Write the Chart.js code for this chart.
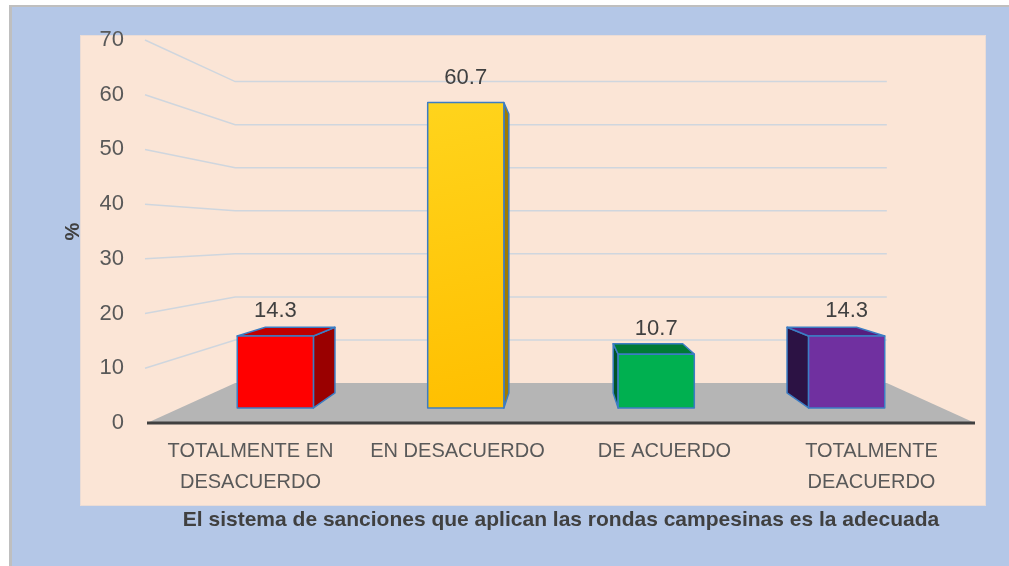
<!DOCTYPE html>
<html lang="es">
<head>
    <meta charset="UTF-8">
    <title>El sistema de sanciones que aplican las rondas campesinas es la adecuada</title>
    <style>
        html, body {
            margin: 0;
            padding: 0;
            background: #ffffff;
        }
        canvas {
            display: block;
        }
    </style>
    <script src="https://cdn.jsdelivr.net/npm/chart.js"></script>
</head>
<body>
    <canvas id="chartCanvas" width="1009" height="566"></canvas>

    <script>
        // datos del gráfico
        const categories = [
            ['TOTALMENTE EN', 'DESACUERDO'],
            ['EN DESACUERDO'],
            ['DE ACUERDO'],
            ['TOTALMENTE', 'DEACUERDO']
        ];
        const percentages = [14.3, 60.7, 10.7, 14.3];
        const yTicks = [0, 10, 20, 30, 40, 50, 60, 70];
        const xTitle = 'El sistema de sanciones que aplican las rondas campesinas es la adecuada';
        const yTitle = '%';

        // colores de las caras (frente, arriba, lado)
        const frontColors = ['#FF0000', '#FFC000', '#00B050', '#7030A0'];
        const topColors = ['#C00000', '#D9A300', '#007A36', '#561F80'];
        const sideColors = ['#9A0000', '#A07A00', '#00532A', '#2C1244'];

        const FONT = '"Liberation Sans", Arial, sans-serif';

        // profundidades relativas al plano frontal (perspectiva tipo Excel 3D)
        const DEPTH = { barFront: 0.92, barBack: 0.84, wall: 0.787 };

        function vanishing(area) {
            return {
                x: (area.left + area.right) / 2,
                y: area.bottom - (area.bottom - area.top) * 0.49
            };
        }

        function project(vp, x, y, s) {
            return { x: vp.x + (x - vp.x) * s, y: vp.y + (y - vp.y) * s };
        }

        function poly(ctx, pts, fill, stroke) {
            ctx.beginPath();
            ctx.moveTo(pts[0].x, pts[0].y);
            for (let i = 1; i < pts.length; i++) ctx.lineTo(pts[i].x, pts[i].y);
            ctx.closePath();
            ctx.fillStyle = fill;
            ctx.fill();
            if (stroke) {
                ctx.strokeStyle = stroke;
                ctx.lineWidth = 1.5;
                ctx.lineJoin = 'round';
                ctx.stroke();
            }
        }

        // fondo azul con el área de trazado color durazno
        const backdrop = {
            id: 'backdrop',
            beforeDraw(chart) {
                const ctx = chart.ctx;
                const a = chart.chartArea;
                ctx.save();
                ctx.fillStyle = '#ffffff';
                ctx.fillRect(0, 0, chart.width, chart.height);
                ctx.fillStyle = '#BFBFBF';
                ctx.fillRect(9, 5, chart.width - 9, chart.height - 5);
                ctx.fillStyle = '#B4C7E7';
                ctx.fillRect(12, 7, chart.width - 12, chart.height - 7);
                ctx.fillStyle = '#FBE5D6';
                ctx.fillRect(a.left - 67, a.top - 5, a.right - a.left + 78, a.bottom - a.top + 88);
                ctx.strokeStyle = '#EADCD6';
                ctx.lineWidth = 1;
                ctx.strokeRect(a.left - 66.5, a.top - 4.5, a.right - a.left + 77, a.bottom - a.top + 87);
                ctx.restore();
            }
        };

        // pared de fondo, líneas de división y piso
        const wallAndFloor = {
            id: 'wallAndFloor',
            beforeDatasetsDraw(chart) {
                const ctx = chart.ctx;
                const a = chart.chartArea;
                const y = chart.scales.y;
                const vp = vanishing(a);
                ctx.save();

                ctx.strokeStyle = '#CFD6DE';
                ctx.lineWidth = 1.5;
                yTicks.forEach(v => {
                    if (v === 0) return;
                    const py = y.getPixelForValue(v);
                    const back1 = project(vp, a.left, py, DEPTH.wall);
                    const back2 = project(vp, a.right, py, DEPTH.wall);
                    ctx.beginPath();
                    ctx.moveTo(a.left - 2, py);
                    ctx.lineTo(back1.x, back1.y);
                    ctx.lineTo(back2.x, back2.y);
                    ctx.stroke();
                });

                const base = y.getPixelForValue(0);
                poly(ctx, [
                    { x: a.left, y: base },
                    { x: a.right, y: base },
                    project(vp, a.right, base, DEPTH.wall),
                    project(vp, a.left, base, DEPTH.wall)
                ], '#B5B5B5');

                ctx.strokeStyle = '#404040';
                ctx.lineWidth = 3;
                ctx.beginPath();
                ctx.moveTo(a.left, base);
                ctx.lineTo(a.right, base);
                ctx.stroke();
                ctx.restore();
            }
        };

        // barras 3D a partir de la geometría que calcula Chart.js
        const bars3d = {
            id: 'bars3d',
            afterDatasetsDraw(chart) {
                const ctx = chart.ctx;
                const vp = vanishing(chart.chartArea);
                const meta = chart.getDatasetMeta(0);
                const s1 = DEPTH.barFront;
                const s2 = DEPTH.barBack;
                const edge = '#3C7DC4';
                ctx.save();
                meta.data.forEach((bar, i) => {
                    const p = bar.getProps(['x', 'y', 'base', 'width'], true);
                    const L = p.x - p.width / 2;
                    const R = p.x + p.width / 2;
                    const T = p.y;
                    const B = p.base;

                    if (R < vp.x) {
                        poly(ctx, [project(vp, R, T, s1), project(vp, R, T, s2), project(vp, R, B, s2), project(vp, R, B, s1)], sideColors[i], edge);
                    } else if (L > vp.x) {
                        poly(ctx, [project(vp, L, T, s1), project(vp, L, T, s2), project(vp, L, B, s2), project(vp, L, B, s1)], sideColors[i], edge);
                    }
                    if (T > vp.y) {
                        poly(ctx, [project(vp, L, T, s1), project(vp, R, T, s1), project(vp, R, T, s2), project(vp, L, T, s2)], topColors[i], edge);
                    }

                    const tl = project(vp, L, T, s1);
                    const br = project(vp, R, B, s1);
                    let fill = frontColors[i];
                    if (i === 1) {
                        fill = ctx.createLinearGradient(tl.x, tl.y, br.x, br.y);
                        fill.addColorStop(0, '#FFD41C');
                        fill.addColorStop(1, '#FFBF00');
                    }
                    poly(ctx, [tl, { x: br.x, y: tl.y }, br, { x: tl.x, y: br.y }], fill, edge);

                    // etiqueta de datos
                    ctx.fillStyle = '#404040';
                    ctx.font = '22px ' + FONT;
                    ctx.textAlign = 'center';
                    ctx.textBaseline = 'middle';
                    ctx.fillText(percentages[i].toFixed(1), (tl.x + br.x) / 2, tl.y - 25);
                });
                ctx.restore();
            }
        };

        const ctx = document.getElementById('chartCanvas').getContext('2d');
        new Chart(ctx, {
            type: 'bar',
            data: {
                labels: categories,
                datasets: [{
                    data: percentages,
                    backgroundColor: 'rgba(0,0,0,0)',
                    borderWidth: 0,
                    barPercentage: 0.4,
                    categoryPercentage: 1.0
                }]
            },
            plugins: [backdrop, wallAndFloor, bars3d],
            options: {
                responsive: false,
                animation: false,
                devicePixelRatio: 1,
                layout: {
                    padding: { left: 57, top: 40, right: 34, bottom: 31 }
                },
                plugins: {
                    legend: { display: false },
                    tooltip: { enabled: false }
                },
                scales: {
                    x: {
                        grid: { display: false, drawTicks: false },
                        border: { display: false },
                        ticks: {
                            color: '#595959',
                            font: { family: FONT, size: 20, lineHeight: 1.55 },
                            padding: 13,
                            maxRotation: 0,
                            autoSkip: false
                        },
                        title: {
                            display: true,
                            text: xTitle,
                            color: '#404040',
                            font: { family: FONT, size: 21, weight: 'bold' },
                            padding: { top: 4, bottom: 2 }
                        },
                        afterFit: s => { s.height = 112; }
                    },
                    y: {
                        min: 0,
                        max: 70,
                        afterBuildTicks: s => { s.ticks = yTicks.map(v => ({ value: v })); },
                        grid: { display: false, drawTicks: false },
                        border: { display: false },
                        ticks: {
                            color: '#595959',
                            font: { family: FONT, size: 22 },
                            padding: 23
                        },
                        title: {
                            display: true,
                            text: yTitle,
                            color: '#404040',
                            font: { family: FONT, size: 20, weight: 'bold' },
                            padding: { top: 4, bottom: 4 }
                        },
                        afterFit: s => { s.width = 90; }
                    }
                }
            }
        });
    </script>
</body>
</html>
